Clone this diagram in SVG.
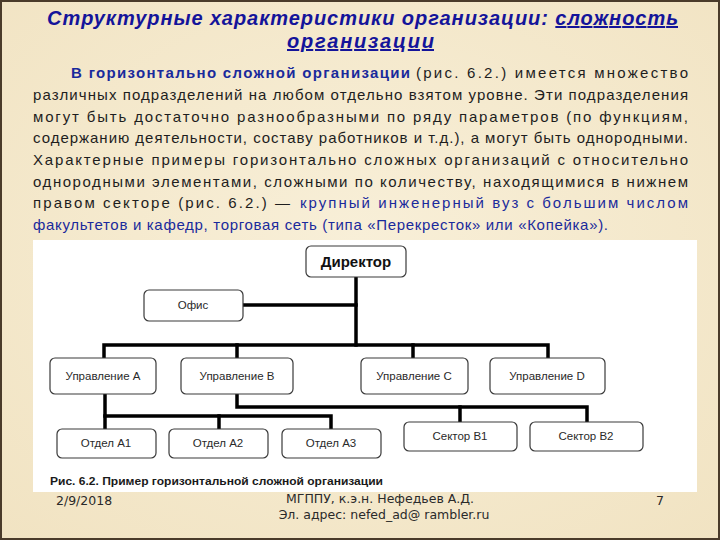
<svg xmlns="http://www.w3.org/2000/svg" width="720" height="540" viewBox="0 0 720 540">
<style>
.title{font-family:"Liberation Sans",Arial,sans-serif;font-weight:bold;font-style:italic;font-size:20px;fill:#14149a}
.body{font-family:"Liberation Sans",Arial,sans-serif;font-size:15px;fill:#1e1e1e}
.blue{fill:#1a2a9c}
.bold{font-weight:bold}
.box{fill:#ffffff;stroke:#3a3a3a;stroke-width:1.2}
.lbl{font-family:"Liberation Sans",Arial,sans-serif;font-size:11.5px;fill:#2a2a2a;text-anchor:middle}
.dir{font-family:"Liberation Sans",Arial,sans-serif;font-size:15px;font-weight:bold;fill:#111;text-anchor:middle}
.conn{fill:none;stroke:#000;stroke-width:3.5;stroke-linejoin:miter;stroke-linecap:square}
.cap{font-family:"Liberation Sans",Arial,sans-serif;font-size:10.5px;font-weight:bold;fill:#1a1a1a}
.foot{font-family:"DejaVu Sans","Liberation Sans",sans-serif;font-size:12.5px;fill:#2a2a2a}
</style>
<defs>
<radialGradient id="bg" cx="50%" cy="45%" r="75%">
<stop offset="0" stop-color="#f8efd8"/>
<stop offset="1" stop-color="#f1e3c2"/>
</radialGradient>
</defs>
<rect x="0" y="0" width="720" height="540" fill="url(#bg)"/>
<rect x="1" y="1" width="718" height="538" fill="none" stroke="#4a3b2a" stroke-width="2"/>

<text class="title" x="47" y="25" textLength="631" lengthAdjust="spacing">Структурные характеристики организации: <tspan text-decoration="underline">сложность</tspan></text>
<text class="title" x="287" y="48" textLength="147" lengthAdjust="spacing" text-decoration="underline">организации</text>

<text class="body blue bold" x="71" y="78" textLength="339" lengthAdjust="spacing">В горизонтально сложной организации</text>
<text class="body" x="416" y="78" textLength="272" lengthAdjust="spacing">(рис. 6.2.) имеется множество</text>
<text class="body" x="33" y="100" textLength="655" lengthAdjust="spacing">различных подразделений на любом отдельно взятом уровне. Эти подразделения</text>
<text class="body" x="33" y="121.5" textLength="655" lengthAdjust="spacing">могут быть достаточно разнообразными по ряду параметров (по функциям,</text>
<text class="body" x="33" y="143" textLength="655" lengthAdjust="spacing">содержанию деятельности, составу работников и т.д.), а могут быть однородными.</text>
<text class="body" x="33" y="165" textLength="655" lengthAdjust="spacing">Характерные примеры горизонтально сложных организаций с относительно</text>
<text class="body" x="33" y="186.5" textLength="655" lengthAdjust="spacing">однородными элементами, сложными по количеству, находящимися в нижнем</text>
<text class="body" x="33" y="208" textLength="257" lengthAdjust="spacing">правом секторе (рис. 6.2.) —</text>
<text class="body blue" x="300" y="208" textLength="388" lengthAdjust="spacing">крупный инженерный вуз с большим числом</text>
<text class="body blue" x="33" y="230" textLength="575" lengthAdjust="spacing">факультетов и кафедр, торговая сеть (типа «Перекресток» или «Копейка»).</text>

<rect x="33" y="240" width="664" height="252" fill="#ffffff"/>

<g id="connectors">
<path class="conn" d="M356 278 V345"/>
<path class="conn" d="M244 305 H356"/>
<path class="conn" d="M104 357 V345 H548 V357"/>
<path class="conn" d="M237 345 V357"/>
<path class="conn" d="M413 345 V357"/>
<path class="conn" d="M105 395 V428"/>
<path class="conn" d="M105 416 H331 V428"/>
<path class="conn" d="M219 416 V428"/>
<path class="conn" d="M237 395 V407 H587 V421"/>
<path class="conn" d="M460 407 V421"/>
</g>

<g id="director"><rect class="box" x="306" y="246" width="100" height="31" rx="5"/><text class="dir" x="356" y="267">Директор</text></g>
<g id="office"><rect class="box" x="144" y="290" width="99" height="31" rx="5"/><text class="lbl" x="193" y="309">Офис</text></g>
<g id="uprA"><rect class="box" x="50" y="358" width="106" height="36" rx="5"/><text class="lbl" x="103" y="380">Управление А</text></g>
<g id="uprB"><rect class="box" x="181" y="358" width="112" height="36" rx="5"/><text class="lbl" x="237" y="380">Управление В</text></g>
<g id="uprC"><rect class="box" x="361" y="358" width="107" height="36" rx="5"/><text class="lbl" x="414" y="380">Управление С</text></g>
<g id="uprD"><rect class="box" x="490" y="358" width="115" height="36" rx="5"/><text class="lbl" x="547" y="380">Управление D</text></g>
<g id="otdA1"><rect class="box" x="57" y="429" width="99" height="29" rx="5"/><text class="lbl" x="106" y="447">Отдел А1</text></g>
<g id="otdA2"><rect class="box" x="169" y="429" width="99" height="29" rx="5"/><text class="lbl" x="218" y="447">Отдел А2</text></g>
<g id="otdA3"><rect class="box" x="282" y="429" width="99" height="29" rx="5"/><text class="lbl" x="331" y="447">Отдел А3</text></g>
<g id="secB1"><rect class="box" x="404" y="422" width="113" height="29" rx="5"/><text class="lbl" x="460" y="440">Сектор В1</text></g>
<g id="secB2"><rect class="box" x="530" y="422" width="113" height="29" rx="5"/><text class="lbl" x="586" y="440">Сектор В2</text></g>

<text class="cap" x="50" y="485" textLength="333" lengthAdjust="spacingAndGlyphs">Рис. 6.2. Пример горизонтальной сложной организации</text>

<text class="foot" x="56" y="505">2/9/2018</text>
<text class="foot" x="380" y="503" text-anchor="middle">МГППУ, к.э.н. Нефедьев А.Д.</text>
<text class="foot" x="384" y="519" text-anchor="middle">Эл. адрес: nefed_ad@ rambler.ru</text>
<text class="foot" x="656" y="505">7</text>
</svg>
